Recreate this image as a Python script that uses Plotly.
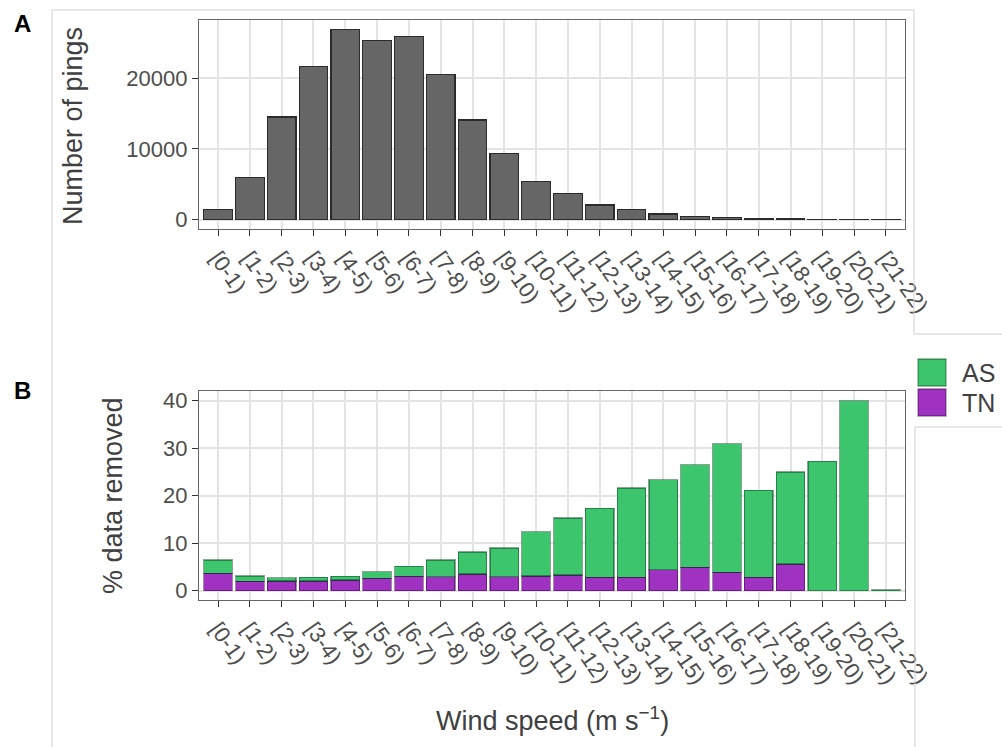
import plotly.graph_objects as go
from plotly.subplots import make_subplots

categories = ["[0-1)", "[1-2)", "[2-3)", "[3-4)", "[4-5)", "[5-6)", "[6-7)", "[7-8)",
              "[8-9)", "[9-10)", "[10-11)", "[11-12)", "[12-13)", "[13-14)", "[14-15)",
              "[15-16)", "[16-17)", "[17-18)", "[18-19)", "[19-20)", "[20-21)", "[21-22)"]
pings = [1450, 5930, 14500, 21700, 26900, 25300, 25900, 20500, 14100, 9300, 5370,
         3670, 2070, 1370, 800, 470, 240, 140, 80, 50, 30, 10]
tn_pct = [3.6, 1.95, 2.0, 2.0, 2.2, 2.6, 3.0, 2.9, 3.5, 2.9, 3.05, 3.25, 2.8, 2.8,
          4.4, 4.9, 3.8, 2.8, 5.6, 0.0, 0.0, 0.0]
as_pct = [2.85, 1.1, 0.7, 0.75, 0.8, 1.4, 2.1, 3.55, 4.6, 6.05, 9.35, 12.0, 14.5,
          18.8, 18.9, 21.6, 27.1, 18.3, 19.35, 27.2, 40.0, 0.1]
top_ticks = [0, 10000, 20000]
bottom_ticks = [0, 10, 20, 30, 40]

W, H = 1002, 747
FONT = "Liberation Sans, Arial, sans-serif"
TICK_COL = "#4d4d4d"
TITLE_COL = "#404040"
GREEN = "#3cc56c"
PURPLE = "#a032c2"


def px(x):
    return x / W


def py(y):
    return 1 - y / H


fig = make_subplots(rows=2, cols=1)

fig.add_trace(go.Bar(x=categories, y=pings, marker=dict(color="#666666",
                     line=dict(color="#2b2b2b", width=1.3)), showlegend=False),
              row=1, col=1)
fig.add_trace(go.Bar(x=categories, y=tn_pct, name="TN", marker=dict(color=PURPLE,
                     line=dict(color="rgba(40,0,50,0.45)", width=1.3)), showlegend=False),
              row=2, col=1)
fig.add_trace(go.Bar(x=categories, y=as_pct, name="AS", marker=dict(color=GREEN,
                     line=dict(color="rgba(0,50,20,0.45)", width=1.3)), showlegend=False),
              row=2, col=1)

n = len(categories)
xcommon = dict(type="category", range=[-0.6, n - 1 + 0.6], domain=[px(199), px(905)],
               showgrid=True, gridcolor="#e4e4e4", gridwidth=1.6,
               showline=True, mirror=True, linecolor="#666666", linewidth=1.4,
               ticks="outside", ticklen=6, tickwidth=1.2, tickcolor="#333333",
               tickangle=55, tickfont=dict(family=FONT, size=22, color=TICK_COL),
               zeroline=False, automargin=False)
ycommon = dict(showgrid=True, gridcolor="#e4e4e4", gridwidth=1.6,
               showline=True, mirror=True, linecolor="#666666", linewidth=1.4,
               ticks="outside", ticklen=6, tickwidth=1.2, tickcolor="#333333",
               tickfont=dict(family=FONT, size=22, color=TICK_COL),
               zeroline=False, automargin=False, tickformat="d")

pmax = max(pings)
totals = [a + b for a, b in zip(tn_pct, as_pct)]
tmax = max(totals)

fig.update_layout(
    xaxis=dict(xcommon),
    xaxis2=dict(xcommon),
    yaxis=dict(ycommon, domain=[py(229), py(20)], range=[-0.05 * pmax, 1.05 * pmax],
               tickvals=top_ticks),
    yaxis2=dict(ycommon, domain=[py(600), py(391)], range=[-0.05 * tmax, 1.05 * tmax],
                tickvals=bottom_ticks),
    barmode="stack", bargap=0.1,
    width=W, height=H, margin=dict(l=0, r=0, t=0, b=0),
    plot_bgcolor="white", paper_bgcolor="white",
    font=dict(family=FONT),
)

shapes = []
border = dict(color="#cfcfcf", width=1)
for (x0, y0, x1, y1) in [(52, 10, 52, 747), (52, 10, 914, 10), (914, 10, 914, 334),
                         (914, 334, 1002, 334), (915, 427, 1002, 427), (915, 427, 915, 747)]:
    shapes.append(dict(type="line", xref="paper", yref="paper", x0=px(x0), y0=py(y0),
                       x1=px(x1), y1=py(y1), line=border))
# legend keys
shapes.append(dict(type="rect", xref="paper", yref="paper", x0=px(918), x1=px(946),
                   y0=py(386), y1=py(359), fillcolor=GREEN,
                   line=dict(color="rgba(0,50,20,0.45)", width=1.3)))
shapes.append(dict(type="rect", xref="paper", yref="paper", x0=px(918), x1=px(946),
                   y0=py(416), y1=py(389), fillcolor=PURPLE,
                   line=dict(color="rgba(40,0,50,0.45)", width=1.3)))
fig.update_layout(shapes=shapes)

ann = []
ann.append(dict(text="Number of pings", x=px(73), y=py(126), textangle=-90,
                font=dict(family=FONT, size=27, color=TITLE_COL)))
ann.append(dict(text="% data removed", x=px(113), y=py(496), textangle=-90,
                font=dict(family=FONT, size=27, color=TITLE_COL)))
ann.append(dict(text="Wind speed (m s<sup>\u22121</sup>)", x=px(552), y=py(719),
                font=dict(family=FONT, size=27, color=TITLE_COL)))
ann.append(dict(text="<b>A</b>", x=px(22), y=py(24),
                font=dict(family=FONT, size=24, color="black")))
ann.append(dict(text="<b>B</b>", x=px(22), y=py(390),
                font=dict(family=FONT, size=24, color="black")))
ann.append(dict(text="AS", x=px(960), y=py(373), xanchor="left",
                font=dict(family=FONT, size=25, color=TITLE_COL)))
ann.append(dict(text="TN", x=px(960), y=py(403), xanchor="left",
                font=dict(family=FONT, size=25, color=TITLE_COL)))
for a in ann:
    a.update(xref="paper", yref="paper", showarrow=False)
    a.setdefault("xanchor", "center")
    a.setdefault("yanchor", "middle")
fig.update_layout(annotations=ann)

fig.write_html("out.html")
